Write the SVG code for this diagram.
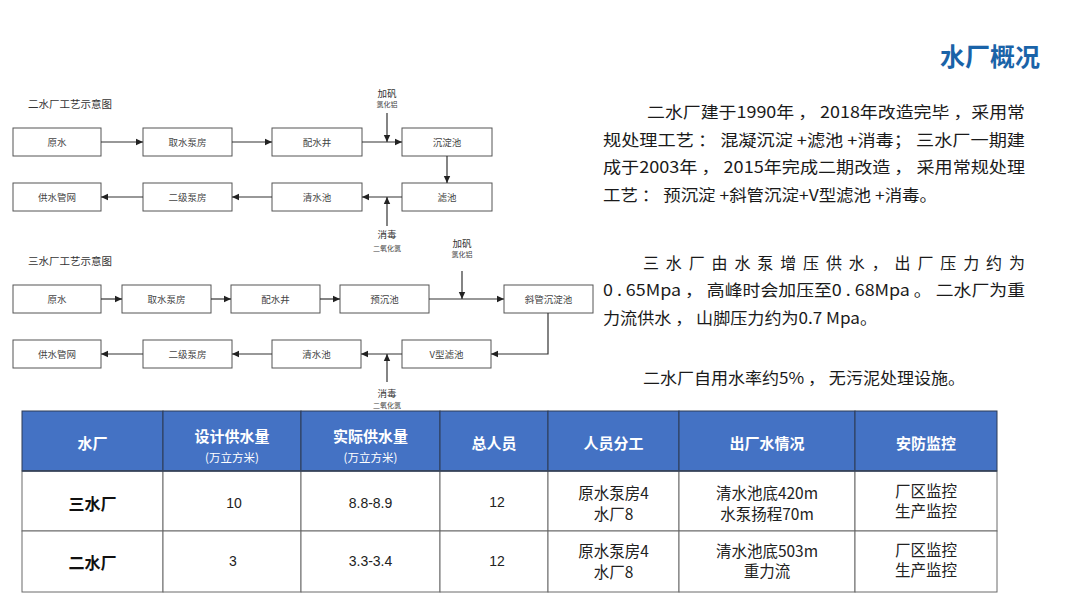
<svg xmlns="http://www.w3.org/2000/svg" width="1080" height="608" viewBox="0 0 1080 608">
<defs>
<marker id="ah" markerWidth="8" markerHeight="8" refX="7" refY="4" orient="auto" markerUnits="userSpaceOnUse">
<path d="M0,0.8 L7,4 L0,7.2 Z" fill="#222"/>
</marker>
<style>
.box{fill:#fff;stroke:#555;stroke-width:1}
.bt{font-family:"Noto Sans CJK SC","Noto Sans",sans-serif;font-size:9.5px;fill:#444;text-anchor:middle;dominant-baseline:central}
.ttl{font-family:"Noto Sans CJK SC","Noto Sans",sans-serif;font-size:10.5px;fill:#333}
.lab{font-family:"Noto Sans CJK SC","Noto Sans",sans-serif;font-size:9.5px;fill:#333;text-anchor:middle;dominant-baseline:central}
.lab2{font-family:"Noto Sans CJK SC","Noto Sans",sans-serif;font-size:7px;fill:#444;text-anchor:middle;dominant-baseline:central}
.con{fill:none;stroke:#333;stroke-width:1.2}
.para{font-family:"Noto Sans CJK SC","Noto Sans",sans-serif;font-size:16px;fill:#1a1a1a;dominant-baseline:central}
.hd{fill:#4472C4;stroke:#2d3b55;stroke-width:1}
.cell{fill:#fff;stroke:#6a6a6a;stroke-width:1}
.ht{font-family:"Noto Sans CJK SC","Noto Sans",sans-serif;font-size:15px;font-weight:bold;fill:#fff;text-anchor:middle;dominant-baseline:central}
.hs{font-family:"Noto Sans CJK SC","Noto Sans",sans-serif;font-size:11.5px;fill:#fff;text-anchor:middle;dominant-baseline:central}
.tc{font-family:"Noto Sans CJK SC","Noto Sans",sans-serif;font-size:15.5px;fill:#222;text-anchor:middle;dominant-baseline:central}
.tn{font-family:"Liberation Sans",Arial,sans-serif;font-size:14px;fill:#222;text-anchor:middle;dominant-baseline:central}
.tb{font-family:"Noto Sans CJK SC","Noto Sans",sans-serif;font-size:16px;font-weight:bold;fill:#111;text-anchor:middle;dominant-baseline:central}
</style>
</defs>
<rect width="1080" height="608" fill="#fff"/>

<text x="1040" y="55" font-family="'Noto Sans CJK SC','Noto Sans',sans-serif" font-size="25" font-weight="bold" fill="#1a63a8" text-anchor="end" dominant-baseline="central">水厂概况</text>

<!-- Diagram 1 -->
<text class="ttl" x="28" y="108">二水厂工艺示意图</text>
<g id="d1-yuanshui"><rect class="box" x="13" y="128" width="88" height="28"/><text class="bt" x="57" y="142">原水</text></g>
<g id="d1-qushui"><rect class="box" x="143" y="128" width="89" height="28"/><text class="bt" x="187.5" y="142">取水泵房</text></g>
<g id="d1-peishui"><rect class="box" x="272" y="128" width="90" height="28"/><text class="bt" x="317" y="142">配水井</text></g>
<g id="d1-chendian"><rect class="box" x="402" y="128" width="90" height="28"/><text class="bt" x="447" y="142">沉淀池</text></g>
<g id="d1-gongshui"><rect class="box" x="13" y="183" width="88" height="28"/><text class="bt" x="57" y="197">供水管网</text></g>
<g id="d1-erji"><rect class="box" x="143" y="183" width="89" height="28"/><text class="bt" x="187.5" y="197">二级泵房</text></g>
<g id="d1-qingshui"><rect class="box" x="272" y="183" width="90" height="28"/><text class="bt" x="317" y="197">清水池</text></g>
<g id="d1-lvchi"><rect class="box" x="402" y="183" width="90" height="28"/><text class="bt" x="447" y="197">滤池</text></g>
<g id="d1-labels">
<text class="lab" x="387" y="93">加矾</text><text class="lab2" x="387" y="103.5">氯化铝</text>
<text class="lab" x="387" y="234">消毒</text><text class="lab2" x="387" y="248">二氧化氯</text>
</g>

<!-- Diagram 2 -->
<text class="ttl" x="28" y="265">三水厂工艺示意图</text>
<g id="d2-yuanshui"><rect class="box" x="13" y="285" width="88" height="28"/><text class="bt" x="57" y="299">原水</text></g>
<g id="d2-qushui"><rect class="box" x="122" y="285" width="89" height="28"/><text class="bt" x="166.5" y="299">取水泵房</text></g>
<g id="d2-peishui"><rect class="box" x="231" y="285" width="89" height="28"/><text class="bt" x="275.5" y="299">配水井</text></g>
<g id="d2-yuchen"><rect class="box" x="340" y="285" width="89" height="28"/><text class="bt" x="384.5" y="299">预沉池</text></g>
<g id="d2-xieguan"><rect class="box" x="504" y="285" width="89" height="28"/><text class="bt" x="548.5" y="299">斜管沉淀池</text></g>
<g id="d2-gongshui"><rect class="box" x="13" y="340" width="88" height="28"/><text class="bt" x="57" y="354">供水管网</text></g>
<g id="d2-erji"><rect class="box" x="143" y="340" width="89" height="28"/><text class="bt" x="187.5" y="354">二级泵房</text></g>
<g id="d2-qingshui"><rect class="box" x="272" y="340" width="89" height="28"/><text class="bt" x="316.5" y="354">清水池</text></g>
<g id="d2-vlv"><rect class="box" x="402" y="340" width="89" height="28"/><text class="bt" x="446.5" y="354">V型滤池</text></g>
<g id="d2-labels">
<text class="lab" x="462" y="243">加矾</text><text class="lab2" x="462" y="254">氯化铝</text>
<text class="lab" x="387" y="393">消毒</text><text class="lab2" x="387" y="405">二氧化氯</text>
</g>

<g id="connectors">
<path class="con" d="M101,142 H143" marker-end="url(#ah)"/>
<path class="con" d="M232,142 H272" marker-end="url(#ah)"/>
<path class="con" d="M362,142 H402" marker-end="url(#ah)"/>
<path class="con" d="M387,113 V142" marker-end="url(#ah)"/>
<path class="con" d="M447,156 V183" marker-end="url(#ah)"/>
<path class="con" d="M402,197 H362" marker-end="url(#ah)"/>
<path class="con" d="M387,226 V197" marker-end="url(#ah)"/>
<path class="con" d="M272,197 H232" marker-end="url(#ah)"/>
<path class="con" d="M143,197 H101" marker-end="url(#ah)"/>

<path class="con" d="M101,299 H122" marker-end="url(#ah)"/>
<path class="con" d="M211,299 H231" marker-end="url(#ah)"/>
<path class="con" d="M320,299 H340" marker-end="url(#ah)"/>
<path class="con" d="M429,299 H504" marker-end="url(#ah)"/>
<path class="con" d="M462,271 V299" marker-end="url(#ah)"/>
<path class="con" d="M548,313 V354 H491" marker-end="url(#ah)"/>
<path class="con" d="M402,354 H361" marker-end="url(#ah)"/>
<path class="con" d="M387,382 V354" marker-end="url(#ah)"/>
<path class="con" d="M272,354 H232" marker-end="url(#ah)"/>
<path class="con" d="M143,354 H101" marker-end="url(#ah)"/>
</g>

<!-- Paragraphs -->
<g id="text-right">
<text class="para" x="647" y="111" textLength="378" lengthAdjust="spacingAndGlyphs">二水厂建于1990年 ， 2018年改造完毕 ，采用常</text>
<text class="para" x="603" y="139" textLength="422" lengthAdjust="spacingAndGlyphs">规处理工艺 ： 混凝沉淀 +滤池 +消毒； 三水厂一期建</text>
<text class="para" x="603" y="166" textLength="422" lengthAdjust="spacingAndGlyphs">成于2003年 ， 2015年完成二期改造 ， 采用常规处理</text>
<text class="para" x="603" y="194" textLength="334" lengthAdjust="spacingAndGlyphs">工艺 ： 预沉淀 +斜管沉淀+V型滤池 +消毒。</text>

<text class="para" x="643" y="262" textLength="382" lengthAdjust="spacing">三 水 厂 由 水 泵 增 压 供 水 ， 出 厂 压 力 约 为</text>
<text class="para" x="603" y="289" textLength="422" lengthAdjust="spacingAndGlyphs">0 . 65Mpa ， 高峰时会加压至0 . 68Mpa 。 二水厂为重</text>
<text class="para" x="603" y="317" textLength="274" lengthAdjust="spacingAndGlyphs">力流供水 ， 山脚压力约为0.7 Mpa。</text>

<text class="para" x="643" y="377" textLength="322" lengthAdjust="spacingAndGlyphs">二水厂自用水率约5% ， 无污泥处理设施。</text>
</g>

<!-- Table -->
<g id="table">
<rect class="hd" x="22" y="411" width="141" height="60"/>
<rect class="hd" x="163" y="411" width="138" height="60"/>
<rect class="hd" x="301" y="411" width="139" height="60"/>
<rect class="hd" x="440" y="411" width="108" height="60"/>
<rect class="hd" x="548" y="411" width="131" height="60"/>
<rect class="hd" x="679" y="411" width="176" height="60"/>
<rect class="hd" x="855" y="411" width="142" height="60"/>
<text class="ht" x="92.5" y="442">水厂</text>
<text class="ht" x="232" y="435">设计供水量</text><text class="hs" x="232" y="457">(万立方米)</text>
<text class="ht" x="370.5" y="435">实际供水量</text><text class="hs" x="370.5" y="457">(万立方米)</text>
<text class="ht" x="494" y="442">总人员</text>
<text class="ht" x="613.5" y="442">人员分工</text>
<text class="ht" x="767" y="442">出厂水情况</text>
<text class="ht" x="926" y="442">安防监控</text>

<rect class="cell" x="22" y="471" width="141" height="60"/>
<rect class="cell" x="163" y="471" width="138" height="60"/>
<rect class="cell" x="301" y="471" width="139" height="60"/>
<rect class="cell" x="440" y="471" width="108" height="60"/>
<rect class="cell" x="548" y="471" width="131" height="60"/>
<rect class="cell" x="679" y="471" width="176" height="60"/>
<rect class="cell" x="855" y="471" width="142" height="60"/>
<rect class="cell" x="22" y="531" width="141" height="61"/>
<rect class="cell" x="163" y="531" width="138" height="61"/>
<rect class="cell" x="301" y="531" width="139" height="61"/>
<rect class="cell" x="440" y="531" width="108" height="61"/>
<rect class="cell" x="548" y="531" width="131" height="61"/>
<rect class="cell" x="679" y="531" width="176" height="61"/>
<rect class="cell" x="855" y="531" width="142" height="61"/>
<line x1="22" y1="471" x2="997" y2="471" stroke="#2d3b55" stroke-width="1.5"/>

<text class="tb" x="92.5" y="503">三水厂</text>
<text class="tn" x="234" y="503">10</text>
<text class="tn" x="370.5" y="503" font-size="15">8.8-8.9</text>
<text class="tn" x="497" y="502" font-size="13">12</text>
<text class="tc" x="613.5" y="492">原水泵房4</text><text class="tc" x="613.5" y="513">水厂8</text>
<text class="tc" x="767" y="492">清水池底420m</text><text class="tc" x="767" y="513">水泵扬程70m</text>
<text class="tc" x="926" y="490">厂区监控</text><text class="tc" x="926" y="510">生产监控</text>

<text class="tb" x="92.5" y="562">二水厂</text>
<text class="tn" x="233" y="561">3</text>
<text class="tn" x="370.5" y="561" font-size="15">3.3-3.4</text>
<text class="tn" x="497" y="561" font-size="13">12</text>
<text class="tc" x="613.5" y="550">原水泵房4</text><text class="tc" x="613.5" y="571">水厂8</text>
<text class="tc" x="767" y="550">清水池底503m</text><text class="tc" x="767" y="570">重力流</text>
<text class="tc" x="926" y="549">厂区监控</text><text class="tc" x="926" y="569">生产监控</text>
</g>
</svg>
